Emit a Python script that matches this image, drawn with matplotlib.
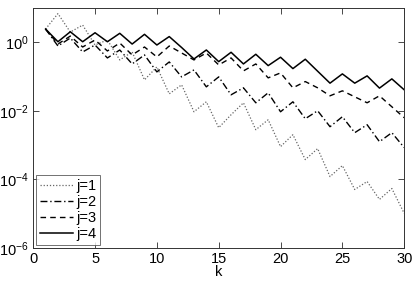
import numpy as np
import matplotlib
matplotlib.use("Agg")
import matplotlib.pyplot as plt

plt.rcParams['font.family'] = ['Liberation Sans', 'DejaVu Sans']
plt.rcParams['mathtext.fontset'] = 'custom'
plt.rcParams['mathtext.rm'] = 'Liberation Sans'
plt.rcParams['mathtext.it'] = 'Liberation Sans:italic'
plt.rcParams['mathtext.default'] = 'regular'

k = np.arange(1, 31)

# error per iteration
err_j1 = [2.44, 6.88, 1.99, 3.18, 0.835, 1.17, 0.306, 0.523, 0.0802, 0.1914,
          0.0314, 0.0574, 0.00941, 0.0184, 0.00323, 0.0077, 0.0172, 0.00282, 0.00551, 0.000904,
          0.00202, 0.000379, 0.000791, 0.000121, 0.000253, 5.08e-5, 8.68e-5, 2.61e-5, 5.43e-5, 1.02e-5]
err_j2 = [2.44, 0.78, 1.334, 0.523, 0.835, 0.35, 0.597, 0.234, 0.428, 0.137,
          0.2676, 0.098, 0.1566, 0.0502, 0.098, 0.0294, 0.047, 0.0172, 0.0336, 0.00941,
          0.0184, 0.00589, 0.01007, 0.00345, 0.00674, 0.00231, 0.00394, 0.00126, 0.00231, 0.000846]
err_j3 = [2.44, 0.89, 1.52, 0.73, 1.17, 0.559, 0.954, 0.428, 0.73, 0.374,
          0.78, 0.489, 0.306, 0.489, 0.219, 0.350, 0.1466, 0.234, 0.0917, 0.128,
          0.047, 0.0716, 0.047, 0.0275, 0.0384, 0.0257, 0.0172, 0.0275, 0.01316, 0.0063]
err_j4 = [2.44, 1.04, 2.03, 1.04, 1.90, 1.04, 1.83, 0.89, 1.71, 0.835,
          1.47, 0.706, 0.327, 0.597, 0.273, 0.512, 0.234, 0.448, 0.209, 0.367,
          0.171, 0.321, 0.1435, 0.0643, 0.1198, 0.0643, 0.1048, 0.0461, 0.0857, 0.0411]
labels = ['j=1', 'j=2', 'j=3', 'j=4']

fig = plt.figure(figsize=(4.15, 2.87), dpi=100)
ax = fig.add_axes([0.080, 0.136, 0.894, 0.836])

ax.semilogy(k, err_j1, color='0.4', lw=0.9, linestyle=(0, (1, 1.5)), label=labels[0])
ax.semilogy(k, err_j2, color='k', lw=1.0, linestyle=(0, (5, 2, 1, 2)), label=labels[1])
ax.semilogy(k, err_j3, color='k', lw=1.0, linestyle=(0, (4, 3)), label=labels[2])
ax.semilogy(k, err_j4, color='k', lw=1.1, linestyle='-', label=labels[3])

ax.set_xlim(0, 30)
ax.set_ylim(1e-6, 1e1)
ax.set_xticks([0, 5, 10, 15, 20, 25, 30])
ax.set_yticks([1e-6, 1e-4, 1e-2, 1e0])
ax.yaxis.set_minor_locator(matplotlib.ticker.NullLocator())
ax.tick_params(which='both', direction='in', top=True, right=True, length=4, width=0.5, labelsize=10.5, pad=3)
for s in ax.spines.values():
    s.set_linewidth(0.7)
    s.set_color('0.2')
ax.set_xlabel('k', fontsize=10.5, labelpad=-1)

leg = ax.legend(loc='lower left', fontsize=10.5, frameon=True, fancybox=False,
                handlelength=2.3, handletextpad=0.2, borderpad=0.25, labelspacing=0.15,
                borderaxespad=0.2)
leg.get_frame().set_edgecolor('0.3')
leg.get_frame().set_linewidth(0.7)

fig.savefig('out.png', dpi=100)
